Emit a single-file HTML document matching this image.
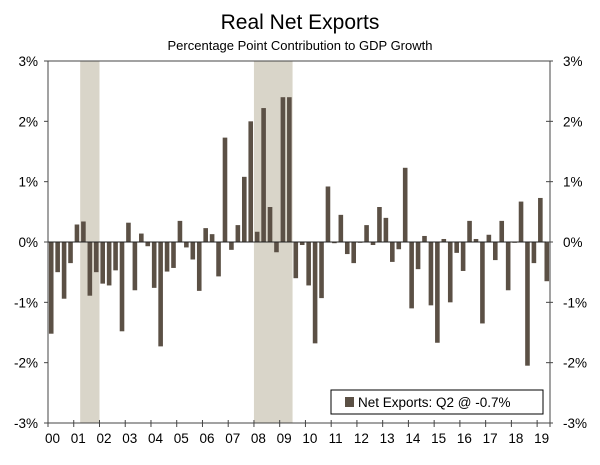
<!DOCTYPE html>
<html><head><meta charset="utf-8"><style>
body{margin:0;background:#fff;}
svg text{font-family:"Liberation Sans",sans-serif;fill:#000;}
</style></head><body>
<svg id="chart" width="600" height="460" xmlns="http://www.w3.org/2000/svg">
<text x="300" y="29" text-anchor="middle" font-size="21">Real Net Exports</text>
<text x="300" y="50" text-anchor="middle" font-size="13">Percentage Point Contribution to GDP Growth</text>
<g id="shade"></g><g id="grid"></g><g id="bars"></g><g id="axes"></g>
<g>
<rect x="331" y="390" width="212" height="24" fill="#fff" stroke="#000" stroke-width="1"/>
<rect x="345" y="397" width="9" height="10" fill="#5b5045"/>
<text x="358" y="407" font-size="13.5">Net Exports: Q2 @ -0.7%</text>
</g>
</svg>
<script>
const years = ["00","01","02","03","04","05","06","07","08","09","10","11","12","13","14","15","16","17","18","19"];
const yTicks = [-3,-2,-1,0,1,2,3];
const values = [-1.52,-0.5,-0.94,-0.35, 0.29,0.34,-0.89,-0.5, -0.69,-0.72,-0.47,-1.48, 0.32,-0.8,0.14,-0.07, -0.76,-1.73,-0.49,-0.43, 0.35,-0.09,-0.29,-0.81, 0.23,0.13,-0.57,1.73, -0.13,0.28,1.08,2.0, 0.17,2.22,0.58,-0.17, 2.4,2.4,-0.6,-0.05, -0.72,-1.68,-0.93,0.92, -0.02,0.45,-0.2,-0.35, 0.0,0.28,-0.05,0.58, 0.4,-0.33,-0.12,1.23, -1.1,-0.45,0.1,-1.05, -1.67,0.05,-1.0,-0.18, -0.48,0.35,0.05,-1.35, 0.12,-0.3,0.35,-0.8, 0.0,0.67,-2.05,-0.35, 0.73,-0.65];
const recessions = [[5,7],[32,37]];
const NS="http://www.w3.org/2000/svg";
const L=48,R=550,T=61,B=423,N=78,qw=(R-L)/N;
const x=i=>L+i*qw;
const y=v=>T+(3-v)*(B-T)/6;
function mk(tag,attrs,parent){const e=document.createElementNS(NS,tag);for(const k in attrs)e.setAttribute(k,attrs[k]);document.getElementById(parent).appendChild(e);return e;}
recessions.forEach(r=>{const e=mk('rect',{x:x(r[0]),y:T,width:x(r[1]+1)-x(r[0]),height:B-T,fill:'#d9d5c9'},'shade');

});
values.forEach((v,i)=>{const y0=y(0),y1=y(v);const e=mk('rect',{x:x(i)+qw/2-2.3,y:Math.min(y0,y1),width:4.6,height:Math.max(Math.abs(y1-y0),0.8),fill:'#5b5045'},'bars');

});
const ax='axes';
mk('line',{x1:L,y1:T,x2:R,y2:T,stroke:'#444','stroke-width':1},ax);
mk('line',{x1:L,y1:B,x2:R,y2:B,stroke:'#444','stroke-width':1},ax);
mk('line',{x1:L,y1:T,x2:L,y2:B,stroke:'#444','stroke-width':1},ax);
mk('line',{x1:R,y1:T,x2:R,y2:B,stroke:'#444','stroke-width':1},ax);
const z=mk('line',{x1:L,y1:y(0),x2:R,y2:y(0),stroke:'#222','stroke-width':1},ax);


yTicks.forEach(t=>{mk('line',{x1:L-4,y1:y(t),x2:L,y2:y(t),stroke:'#444'},ax);mk('line',{x1:R-4,y1:y(t),x2:R+3,y2:y(t),stroke:'#444'},ax);
const a=mk('text',{x:38,y:y(t)+5,'text-anchor':'end','font-size':13.5},ax);a.textContent=t+'%';


const b=mk('text',{x:563,y:y(t)+5,'font-size':13.5},ax);b.textContent=t+'%';

});
years.forEach((yr,k)=>{mk('line',{x1:x(k*4),y1:B-3,x2:x(k*4),y2:B+4,stroke:'#444'},ax);
const t=mk('text',{x:x(k*4)+4.5,y:443,'text-anchor':'middle','font-size':13.5},ax);t.textContent=yr;

});
mk('line',{x1:R,y1:B-3,x2:R,y2:B+4,stroke:'#444'},ax);
</script>
</body></html>
